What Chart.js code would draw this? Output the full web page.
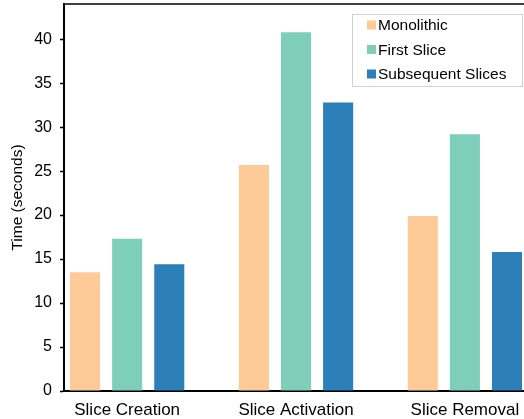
<!DOCTYPE html>
<html>
<head>
<meta charset="utf-8">
<script src="https://cdn.jsdelivr.net/npm/chart.js@4"></script>
<style>
  html, body { margin: 0; padding: 0; background: #fff; }
  #wrap { width: 524px; height: 419px; }
</style>
</head>
<body>
<div id="wrap"><canvas id="bar-chart"></canvas></div>
<script>
const categories = ["Slice Creation", "Slice Activation", "Slice Removal"];
const monolithic = [13.5, 25.7, 19.9];
const firstSlice = [17.3, 40.8, 29.2];
const subsequentSlices = [14.4, 32.8, 15.8];
const yTicks = [0, 5, 10, 15, 20, 25, 30, 35, 40];

const COLORS = {
  orange: "#fdca98",
  green: "#7fcdbb",
  blue: "#2c7fb8",
};

const FONT = "'Liberation Sans', Arial, sans-serif";

function toPoints(values) {
  return values.map((v, i) => ({ x: i, y: v }));
}

// legend box in the top right corner, plus top frame line
const boxLegend = {
  id: "boxLegend",
  afterDraw(chart) {
    const ctx = chart.ctx;
    const area = chart.chartArea;
    ctx.save();
    ctx.strokeStyle = "#000";
    ctx.lineWidth = 1.5;
    ctx.beginPath();
    ctx.moveTo(area.left, area.top);
    ctx.lineTo(area.right, area.top);
    ctx.stroke();

    const x = 352.5, y = 14.5, w = 170, h = 72;
    ctx.fillStyle = "#fff";
    ctx.fillRect(x, y, w, h);
    ctx.strokeStyle = "#d0d0d0";
    ctx.lineWidth = 1;
    ctx.strokeRect(x, y, w, h);

    ctx.font = "15.5px " + FONT;
    ctx.textBaseline = "middle";
    chart.data.datasets.forEach((ds, i) => {
      const cy = 25 + i * 24.5;
      ctx.fillStyle = ds.backgroundColor;
      ctx.fillRect(367, cy - 4.5, 9, 9);
      ctx.fillStyle = "#000";
      ctx.fillText(ds.label, 378, cy + 1);
    });
    ctx.restore();
  },
};

const data = {
  datasets: [
    { label: "Monolithic", data: toPoints(monolithic), backgroundColor: COLORS.orange },
    { label: "First Slice", data: toPoints(firstSlice), backgroundColor: COLORS.green },
    { label: "Subsequent Slices", data: toPoints(subsequentSlices), backgroundColor: COLORS.blue },
  ],
};

const config = {
  type: "bar",
  data: data,
  options: {
    responsive: true,
    maintainAspectRatio: false,
    animation: false,
    categoryPercentage: 0.748,
    barPercentage: 0.714,
    layout: { padding: { top: 4, left: 0, right: 0, bottom: 0 } },
    plugins: {
      legend: { display: false },
      tooltip: { enabled: false },
    },
    scales: {
      x: {
        type: "linear",
        offset: false,
        min: -0.374,
        max: 2.35,
        afterFit(scale) {
          scale.height = 28;
          scale.paddingLeft = 0;
          scale.paddingRight = 0;
        },
        afterBuildTicks(scale) {
          scale.ticks = categories.map((c, i) => ({ value: i }));
        },
        grid: { display: false, offset: false },
        border: { display: true, color: "#000", width: 2 },
        ticks: {
          padding: 1,
          color: "#000",
          font: { family: FONT, size: 17 },
          callback: (v) => categories[v] ?? "",
        },
      },
      y: {
        min: 0,
        max: 44,
        afterFit(scale) {
          scale.width = 64;
          scale.paddingTop = 0;
          scale.paddingBottom = 0;
        },
        afterBuildTicks(scale) {
          scale.ticks = yTicks.map((v) => ({ value: v }));
        },
        grid: {
          display: true,
          drawOnChartArea: false,
          drawTicks: true,
          tickLength: 4,
          tickColor: "#000",
          tickWidth: 1.5,
        },
        border: { display: true, color: "#000", width: 2 },
        ticks: {
          padding: 8,
          color: "#000",
          font: { family: FONT, size: 16 },
        },
        title: {
          display: true,
          text: "Time (seconds)",
          color: "#000",
          padding: { top: 8, bottom: 0 },
          font: { family: FONT, size: 15.5 },
        },
      },
    },
  },
  plugins: [boxLegend],
};

var ctx = document.getElementById("bar-chart").getContext("2d");
var myChart = new Chart(ctx, config);
</script>
</body>
</html>
